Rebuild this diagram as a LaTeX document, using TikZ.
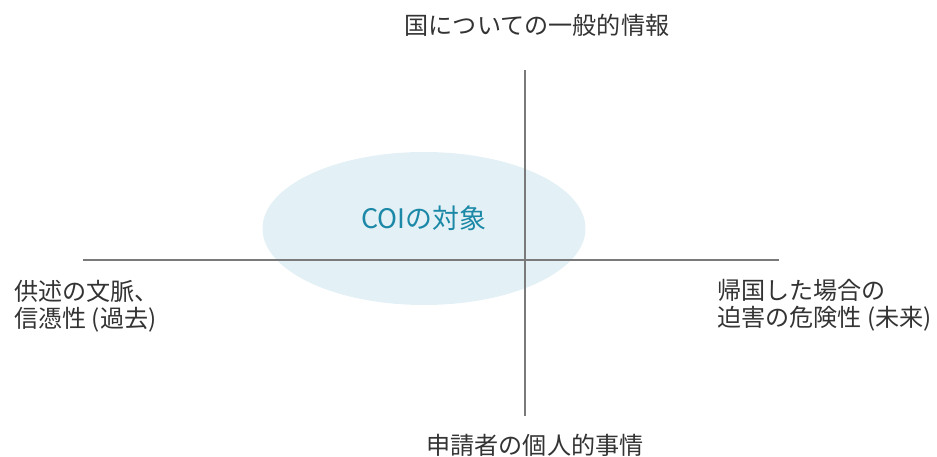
\documentclass[tikz,border=0pt]{standalone}
\usepackage{fontspec}
\setmainfont{Noto Sans CJK JP}
\usetikzlibrary{positioning}
\definecolor{axisgray}{HTML}{7A7A7A}
\definecolor{textgray}{HTML}{333333}
\definecolor{coifill}{HTML}{E3F0F5}
\definecolor{coitext}{HTML}{1A88A6}
\tikzset{
    x=1bp, y=-1bp, % pixel-like units, y grows downwards
    axis/.style={draw=axisgray, line width=1.2bp}, % the two axes
    label/.style={text=textgray, font=\fontsize{24.2}{27.5}\selectfont, inner sep=0pt}, % axis end labels
    target/.style={fill=coifill, draw=none}, % the COI ellipse
}
\begin{document}
\begin{tikzpicture}
                  \useasboundingbox (0,0) rectangle (937,457);
                  \fill[target] (424,228.5) ellipse [x radius=161.5, y radius=76.5];
                  \node[text=coitext, font=\fontsize{27}{32}\selectfont, inner sep=0pt] (coi) at (424,218) {COIの対象};
                  \coordinate (top) at (525,70);
                  \coordinate (bottom) at (525,416);
                  \coordinate (left) at (83,260);
                  \coordinate (right) at (779,260);
                  \draw[axis] (top) -- (bottom);
                  \draw[axis] (left) -- (right);
                  \node[label] (general) at (537,25) {国についての一般的情報};
                  \node[label] (personal) at (535,445) {申請者の個人的事情};
                  \node[label, anchor=west, align=left] (past) at (14,306.5) {供述の文脈、\\信憑性 (過去)};
                  \node[label, anchor=west, align=left] (future) at (717,305) {帰国した場合の\\迫害の危険性 (未来)};
              \end{tikzpicture}
\end{document}
